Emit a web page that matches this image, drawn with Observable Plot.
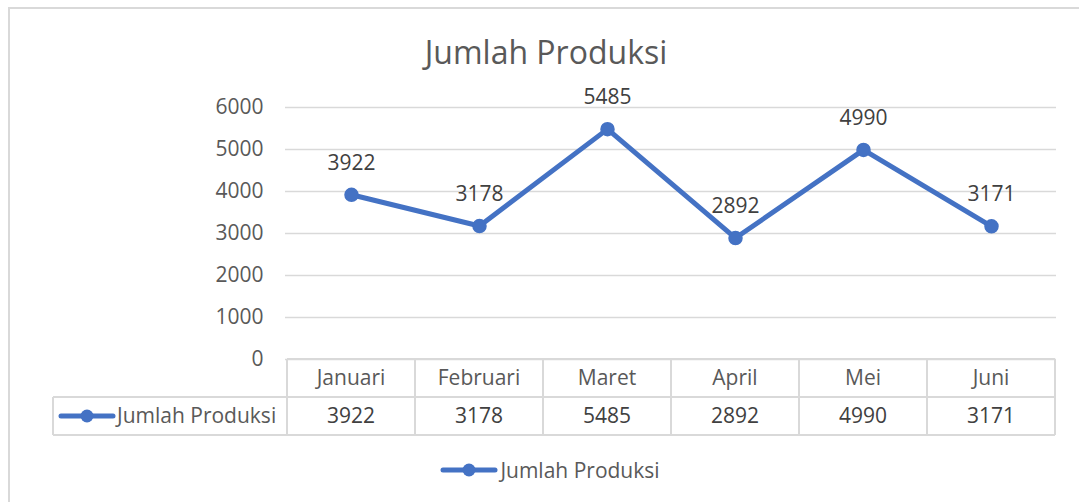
<!DOCTYPE html>
<html>
<head>
<meta charset="utf-8">
<script src="https://cdn.jsdelivr.net/npm/d3@7"></script>
<script src="https://cdn.jsdelivr.net/npm/@observablehq/plot@0.6"></script>
<style>
  html, body { margin: 0; padding: 0; background: #fff; }
  #wrap { position: relative; width: 1079px; height: 502px; overflow: hidden; font-family: "Open Sans", sans-serif; }
  #frame { position: absolute; left: 8px; top: 7px; width: 1100px; height: 520px; border: 2px solid #d9d9d9; box-sizing: border-box; }
  #title { position: absolute; left: 0; width: 1092px; top: 30px; text-align: center; font-size: 32px; line-height: 44px; color: #595959; }
  #chart { position: absolute; left: 0; top: 0; }
  #legend { position: absolute; left: 0; width: 1100px; top: 454px; text-align: center; font-size: 21px; line-height: 28px; color: #595959; }
  #legend svg { vertical-align: middle; margin-right: 2px; }
</style>
</head>
<body>
<div id="wrap">
  <div id="frame"></div>
  <div id="chart"></div>
  <div id="title"></div>
  <div id="legend"></div>
</div>
<script>
const chartTitle = "Jumlah Produksi";
const seriesName = "Jumlah Produksi";
const months = ["Januari", "Februari", "Maret", "April", "Mei", "Juni"];
const values = [3922, 3178, 5485, 2892, 4990, 3171];
const yTicks = [0, 1000, 2000, 3000, 4000, 5000, 6000];

(function () {
const color = "#4472c4";
const fs = 21;
const data = months.map((m, i) => ({month: m, value: values[i]}));

document.getElementById("title").textContent = chartTitle;

const chart = Plot.plot({
  width: 1079,
  height: 502,
  marginLeft: 285,
  marginRight: 23,
  marginTop: 107,
  marginBottom: 143,
  style: {fontFamily: "Open Sans, sans-serif", fontSize: fs + "px", color: "#595959", background: "transparent", overflow: "visible"},
  x: {type: "band", domain: months, padding: 0, axis: null},
  y: {domain: [0, 6000], ticks: yTicks, tickFormat: d => String(d), label: null},
  marks: [
    Plot.gridY(yTicks, {stroke: "#d9d9d9", strokeOpacity: 1, strokeWidth: 1.5}),
    Plot.axisY(yTicks, {tickSize: 0, tickPadding: 22, label: null, tickFormat: d => String(d), fontSize: fs, fill: "#595959"}),
    Plot.line(data, {x: "month", y: "value", stroke: color, strokeWidth: 5}),
    Plot.dot(data, {x: "month", y: "value", r: 6.5, fill: color, stroke: color}),
    Plot.text(data, {x: "month", y: "value", text: d => String(d.value), dy: -32, fontSize: fs, fill: "#404040"})
  ]
});
document.getElementById("chart").appendChild(chart);

// Data table beneath the plot, positioned from the plot's own scales
const xs = chart.scale("x");
const ys = chart.scale("y");
const svg = d3.select(chart);
const bw = xs.bandwidth;
const x0 = xs.apply(months[0]);
const x1 = xs.apply(months[months.length - 1]) + bw;
const tableTop = ys.apply(0);
const rowH = 38;
const leftX = 53;
const g = svg.append("g").attr("stroke", "#d9d9d9").attr("stroke-width", 2).attr("fill", "none");
g.append("line").attr("x1", x0).attr("x2", x1).attr("y1", tableTop).attr("y2", tableTop);
g.append("line").attr("x1", leftX).attr("x2", x1).attr("y1", tableTop + rowH).attr("y2", tableTop + rowH);
g.append("line").attr("x1", leftX).attr("x2", x1).attr("y1", tableTop + 2 * rowH).attr("y2", tableTop + 2 * rowH);
g.append("line").attr("x1", leftX).attr("x2", leftX).attr("y1", tableTop + rowH).attr("y2", tableTop + 2 * rowH);
months.forEach((m) => {
  const xx = xs.apply(m);
  g.append("line").attr("x1", xx).attr("x2", xx).attr("y1", tableTop).attr("y2", tableTop + 2 * rowH);
});
g.append("line").attr("x1", x1).attr("x2", x1).attr("y1", tableTop).attr("y2", tableTop + 2 * rowH);

const t = svg.append("g").attr("font-family", "Open Sans, sans-serif").attr("font-size", fs).attr("fill", "#595959").attr("text-anchor", "middle");
months.forEach((m, i) => {
  const cx = xs.apply(m) + bw / 2;
  t.append("text").attr("x", cx).attr("y", tableTop + rowH / 2).attr("dy", "0.35em").text(m);
  t.append("text").attr("x", cx).attr("y", tableTop + rowH * 1.5).attr("dy", "0.35em").attr("fill", "#404040").text(String(values[i]));
});
// legend key inside the table's left cell
const key = svg.append("g");
const ky = tableTop + rowH * 1.5;
key.append("line").attr("x1", 61).attr("x2", 113).attr("y1", ky).attr("y2", ky).attr("stroke", color).attr("stroke-width", 5).attr("stroke-linecap", "round");
key.append("circle").attr("cx", 87).attr("cy", ky).attr("r", 6.5).attr("fill", color);
key.append("text").attr("x", 117).attr("y", ky).attr("dy", "0.35em").attr("text-anchor", "start").attr("font-family", "Open Sans, sans-serif").attr("font-size", fs).attr("fill", "#595959").text(seriesName);

// bottom legend
const leg = document.getElementById("legend");
leg.innerHTML = `<svg width="58" height="16"><line x1="3" x2="55" y1="8" y2="8" stroke="${color}" stroke-width="5" stroke-linecap="round"/><circle cx="29" cy="8" r="6.5" fill="${color}"/></svg>`;
const span = document.createElement("span");
span.textContent = seriesName;
span.style.verticalAlign = "middle";
leg.appendChild(span);
})();
</script>
</body>
</html>
